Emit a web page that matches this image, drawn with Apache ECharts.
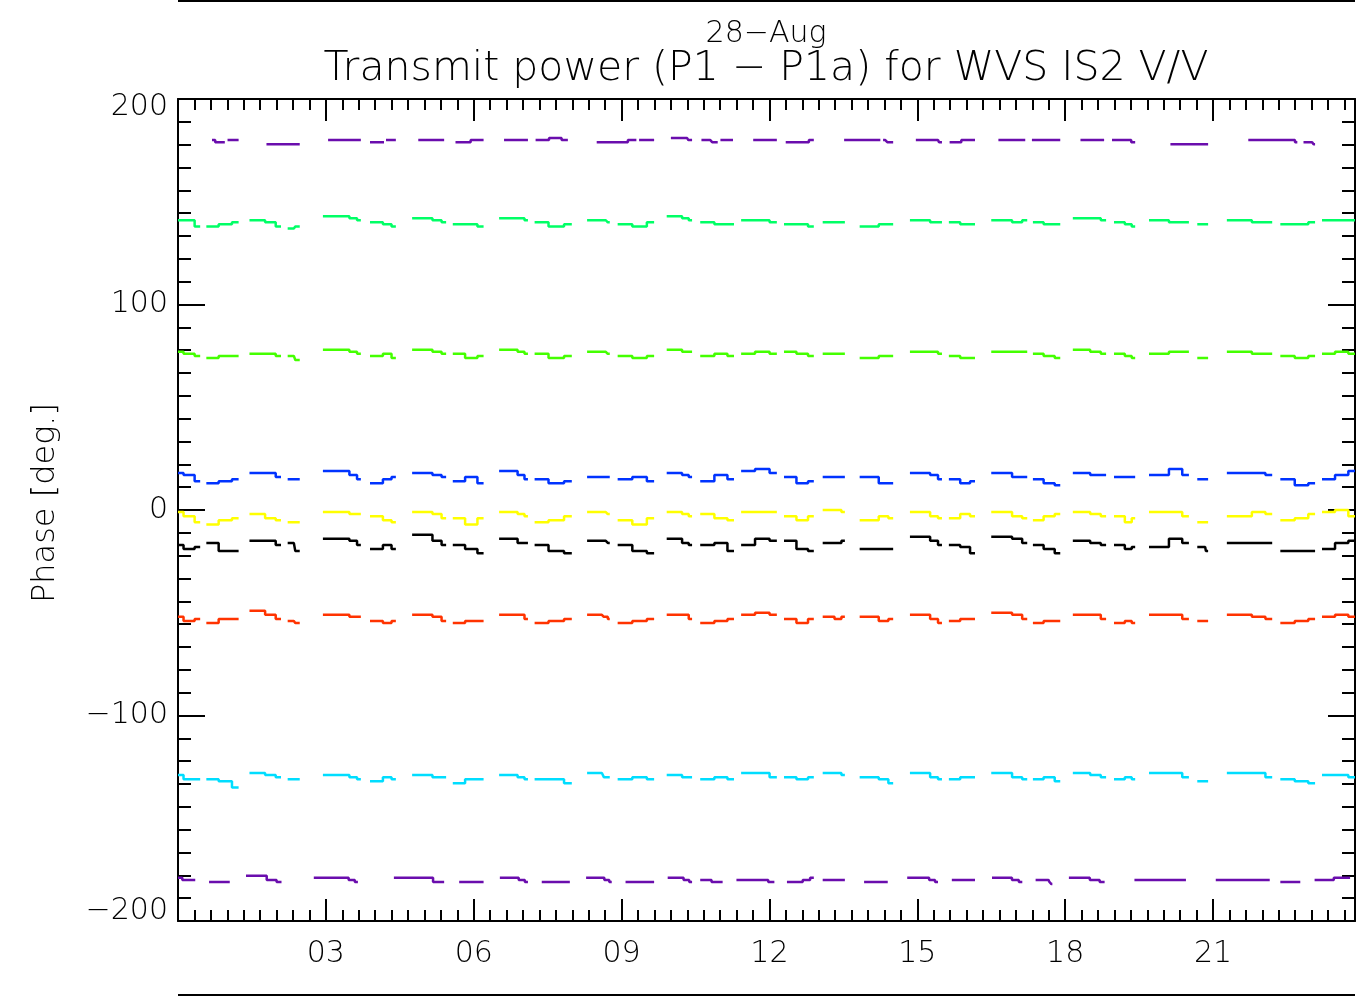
<!DOCTYPE html>
<html>
<head>
<meta charset="utf-8">
<script src="https://cdn.jsdelivr.net/npm/echarts@6/dist/echarts.min.js"></script>
<style>
  html, body { margin: 0; padding: 0; background: #fff; }
  #main { width: 1366px; height: 1000px; }
</style>
</head>
<body>
<div id="main"></div>
<script>
// pass windows (hours of day), shared by most beams
const segStart = [0.0, 0.69, 1.66, 2.35, 3.40, 4.07, 5.07, 5.70, 6.82, 7.36, 8.60, 9.07, 10.16, 10.75, 11.56, 12.43, 13.25, 14.12, 15.18, 15.77, 16.82, 17.45, 18.40, 19.14, 19.97, 20.84, 21.65, 22.52, 23.34];
const segEnd   = [0.45, 1.23, 2.09, 2.47, 3.71, 4.42, 5.44, 6.20, 7.10, 7.99, 8.76, 9.66, 10.43, 11.28, 12.15, 12.90, 13.53, 14.51, 15.50, 16.17, 17.23, 17.90, 18.83, 19.42, 20.51, 20.90, 22.20, 23.07, 23.88];

// purple beams only show up in parts of the passes
const topStart = [0.69, 1.05, 2.35, 3.61, 4.07, 4.25, 5.32, 5.85, 7.02, 7.40, 9.07, 9.40, 10.33, 10.80, 11.05, 12.07, 12.50, 14.12, 14.35, 15.42, 15.80, 17.11, 17.45, 18.71, 19.10, 20.84, 22.52, 22.95];
const topEnd   = [0.95, 1.23, 2.47, 3.71, 4.18, 4.42, 5.40, 6.20, 7.10, 7.91, 9.30, 9.66, 10.43, 10.95, 11.26, 12.15, 12.90, 14.25, 14.51, 15.50, 16.17, 17.19, 17.90, 18.79, 19.42, 20.90, 22.71, 23.07];
const botStart = [0.0, 0.90, 1.70, 3.40, 5.10, 6.00, 6.85, 7.65, 8.60, 9.35, 10.20, 10.75, 11.60, 12.60, 13.25, 14.30, 15.18, 15.97, 16.85, 17.66, 18.40, 20.00, 21.65, 22.57, 23.34];
const botEnd   = [0.35, 1.05, 2.10, 3.65, 5.40, 6.20, 7.10, 7.95, 8.80, 9.66, 10.43, 11.05, 12.10, 12.90, 13.53, 14.40, 15.42, 16.17, 17.13, 17.74, 18.80, 20.45, 22.15, 22.77, 23.78];

// phase values per pass: [start, middle, end]
const purpleTop = [[180,179,179],[180,180,180],[178,178,178],[180,180,180],[179,179,179],[180,180,180],[180,180,180],[179,180,180],[180,180,180],[180,181,180],[179,180,180],[180,180,180],[181,180,180],[180,179,179],[180,180,180],[180,180,180],[179,179,180],[180,180,180],[180,179,179],[180,179,179],[179,180,180],[180,180,180],[180,180,180],[180,180,180],[180,180,179],[178,178,178],[180,180,179],[179,179,178]];
const spring = [[141,141,138],[138,139,140],[141,140,138],[137,138,138],[143,142,141],[140,139,138],[142,141,140],[139,139,138],[142,142,141],[140,138,139],[141,141,140],[139,138,140],[143,142,141],[140,139,139],[141,141,140],[139,139,138],[140,140,140],[138,139,139],[141,140,140],[140,139,139],[141,140,141],[140,139,139],[142,142,141],[140,139,138],[141,140,140],[139,139,139],[141,140,140],[139,139,140],[141,141,141]];
const lime = [[77,76,75],[74,75,75],[76,76,75],[75,73,73],[78,77,76],[75,76,74],[78,77,76],[76,74,75],[78,77,76],[76,74,75],[77,77,76],[75,74,75],[78,77,77],[75,76,75],[76,77,76],[77,76,75],[76,76,76],[74,75,75],[77,77,76],[75,74,74],[77,77,77],[76,75,74],[78,77,76],[76,75,74],[76,77,77],[74,74,74],[77,76,76],[75,74,75],[76,77,76]];
const blue = [[18,17,14],[13,14,15],[18,18,16],[15,15,15],[19,17,15],[13,15,16],[18,17,16],[14,16,13],[19,17,15],[15,13,14],[16,16,16],[15,16,14],[18,17,16],[14,17,15],[19,20,18],[16,13,14],[16,16,16],[16,13,13],[18,17,15],[15,13,14],[18,16,16],[15,13,12],[18,17,17],[16,16,16],[17,20,17],[15,15,15],[18,18,17],[15,12,13],[15,17,19]];
const yellow = [[-1,-3,-6],[-7,-5,-4],[-2,-4,-5],[-6,-6,-6],[-1,-2,-2],[-3,-5,-6],[-1,-2,-4],[-4,-7,-4],[-1,-2,-3],[-6,-5,-3],[-1,-1,-2],[-5,-7,-4],[-1,-2,-3],[-2,-4,-5],[-1,-1,-1],[-3,-5,-3],[0,0,-1],[-5,-3,-4],[-1,-3,-4],[-4,-2,-3],[-1,-3,-4],[-5,-3,-2],[-1,-2,-3],[-3,-6,-4],[-1,-1,-3],[-6,-6,-6],[-3,-1,-2],[-5,-4,-2],[-1,0,-3]];
const black = [[-17,-19,-18],[-16,-20,-20],[-15,-15,-17],[-16,-20,-20],[-14,-15,-17],[-19,-17,-19],[-12,-15,-17],[-17,-19,-21],[-14,-16,-16],[-17,-20,-21],[-15,-15,-16],[-17,-20,-21],[-14,-16,-17],[-17,-16,-20],[-17,-14,-15],[-15,-19,-20],[-16,-16,-15],[-19,-19,-19],[-13,-15,-17],[-17,-18,-21],[-13,-14,-16],[-17,-19,-21],[-15,-16,-17],[-17,-19,-18],[-18,-14,-16],[-18,-20,-20],[-16,-16,-16],[-20,-20,-20],[-19,-16,-15]];
const red = [[-52,-54,-53],[-55,-53,-53],[-49,-51,-53],[-54,-55,-55],[-51,-52,-52],[-54,-55,-54],[-51,-52,-54],[-55,-54,-54],[-51,-51,-53],[-55,-54,-53],[-51,-52,-53],[-55,-54,-53],[-51,-51,-53],[-55,-54,-53],[-51,-50,-51],[-53,-55,-53],[-52,-53,-52],[-52,-54,-53],[-51,-53,-55],[-54,-53,-53],[-50,-51,-53],[-55,-54,-54],[-51,-51,-53],[-55,-54,-55],[-51,-51,-53],[-54,-54,-54],[-51,-52,-53],[-55,-54,-53],[-52,-51,-52]];
const cyan = [[-129,-131,-131],[-131,-132,-135],[-128,-129,-130],[-131,-131,-131],[-129,-130,-131],[-132,-130,-131],[-129,-130,-130],[-133,-131,-131],[-129,-130,-131],[-131,-131,-133],[-128,-130,-130],[-131,-130,-131],[-129,-130,-130],[-131,-130,-131],[-128,-128,-130],[-130,-131,-130],[-128,-128,-129],[-130,-131,-133],[-128,-130,-131],[-131,-130,-130],[-128,-130,-131],[-131,-130,-132],[-128,-129,-130],[-131,-130,-131],[-128,-128,-130],[-132,-132,-132],[-128,-128,-130],[-131,-132,-133],[-129,-129,-130]];
const purpleBot = [[-179,-180,-180],[-181,-181,-181],[-178,-180,-181],[-179,-180,-181],[-179,-181,-181],[-181,-181,-181],[-179,-180,-181],[-181,-181,-181],[-179,-180,-181],[-181,-181,-181],[-179,-180,-181],[-180,-181,-181],[-180,-180,-181],[-181,-180,-179],[-180,-180,-180],[-181,-181,-181],[-179,-180,-181],[-180,-180,-180],[-179,-180,-181],[-180,-181,-182],[-179,-180,-181],[-180,-180,-180],[-180,-180,-180],[-181,-181,-181],[-180,-179,-179]];

const xTicks = ['03', '06', '09', '12', '15', '18', '21'];

function build(vals, starts, ends) {
  const out = [];
  vals.forEach((v, i) => {
    const s = starts[i], e = ends[i], m = (s + e) / 2;
    out.push([s, v[0]], [m, v[1]], [e, v[2]], [e + 0.01, null]);
  });
  return out;
}

const FONT = 'DejaVu Sans';
const chart = echarts.init(document.getElementById('main'), null, { renderer: 'canvas' });

const lineSeries = (name, color, data) => ({
  name, type: 'line', data, color,
  showSymbol: false, connectNulls: false, step: 'middle',
  lineStyle: { width: 2.5, color },
  animation: false, silent: true
});

function axisBase(majorLen, minorLen) {
  return {
    axisLine: { show: true, onZero: false, lineStyle: { color: '#000', width: 2 } },
    axisTick: { show: true, inside: true, length: majorLen, lineStyle: { color: '#000', width: 2 } },
    minorTick: { show: true, splitNumber: 9, length: minorLen, lineStyle: { color: '#000', width: 2 } },
    splitLine: { show: false }
  };
}

chart.setOption({
  backgroundColor: '#fff',
  animation: false,
  grid: { left: 178, right: 11, top: 99, bottom: 79, containLabel: false, outerBoundsMode: 'none' },
  xAxis: [
    Object.assign(axisBase(22, 11), {
      type: 'value', position: 'bottom', min: 0, max: 23.88, interval: 3,
      axisLabel: { show: true, margin: 18, color: '#000', fontFamily: FONT, fontSize: 30, fontWeight: 200,
        showMinLabel: false, showMaxLabel: false,
        formatter: v => (v > 0 && v < 23) ? xTicks[Math.round(v / 3) - 1] : '' }
    }),
    Object.assign(axisBase(22, 11), {
      type: 'value', position: 'top', min: 0, max: 23.88, interval: 3,
      axisLabel: { show: false }
    })
  ],
  yAxis: [
    Object.assign(axisBase(27, 13), {
      type: 'value', position: 'left', min: -200, max: 200, interval: 100,
      axisLabel: { show: true, margin: 10, color: '#000', fontFamily: FONT, fontSize: 30, fontWeight: 200,
        formatter: v => {
          const s = String(v).replace('-', '\u2212');
          if (v === 200) return '{hi|' + s + '}';
          if (v === -200) return '{lo|' + s + '}';
          return s;
        },
        rich: {
          hi: { fontFamily: FONT, fontSize: 30, fontWeight: 200, color: '#000', padding: [16, 0, 0, 0] },
          lo: { fontFamily: FONT, fontSize: 30, fontWeight: 200, color: '#000', padding: [0, 0, 20, 0] }
        }
      }
    }),
    Object.assign(axisBase(27, 13), {
      type: 'value', position: 'right', min: -200, max: 200, interval: 100,
      axisLabel: { show: false }
    })
  ],
  series: [
    lineSeries('beam 1', '#6a0dad', build(purpleTop, topStart, topEnd)),
    lineSeries('beam 2', '#00ff66', build(spring, segStart, segEnd)),
    lineSeries('beam 3', '#44ff00', build(lime, segStart, segEnd)),
    lineSeries('beam 4', '#0033ff', build(blue, segStart, segEnd)),
    lineSeries('beam 5', '#ffff00', build(yellow, segStart, segEnd)),
    lineSeries('beam 6', '#000000', build(black, segStart, segEnd)),
    lineSeries('beam 7', '#ff3300', build(red, segStart, segEnd)),
    lineSeries('beam 8', '#00ddff', build(cyan, segStart, segEnd)),
    lineSeries('beam 9', '#6a0dad', build(purpleBot, botStart, botEnd))
  ],
  graphic: [
    { type: 'text', x: 766, y: 34,
      style: { text: '28\u2212Aug', fontFamily: FONT, fontSize: 30, fontWeight: 200, fill: '#000',
        align: 'center', verticalAlign: 'middle' } },
    { type: 'text', x: 766, y: 69,
      style: { text: 'Transmit power (P1 \u2212 P1a) for WVS IS2 V/V', fontFamily: FONT, fontSize: 41, fontWeight: 200,
        fill: '#000', align: 'center', verticalAlign: 'middle' } },
    { type: 'text', x: 46, y: 503, rotation: Math.PI / 2,
      style: { text: 'Phase [deg.]', fontFamily: FONT, fontSize: 32, fontWeight: 200, fill: '#000',
        align: 'center', verticalAlign: 'middle' } },
    { type: 'line', shape: { x1: 178, y1: 1, x2: 1355, y2: 1 }, style: { stroke: '#000', lineWidth: 2 } },
    { type: 'line', shape: { x1: 178, y1: 995, x2: 1355, y2: 995 }, style: { stroke: '#000', lineWidth: 2 } }
  ]
});
</script>
</body>
</html>
